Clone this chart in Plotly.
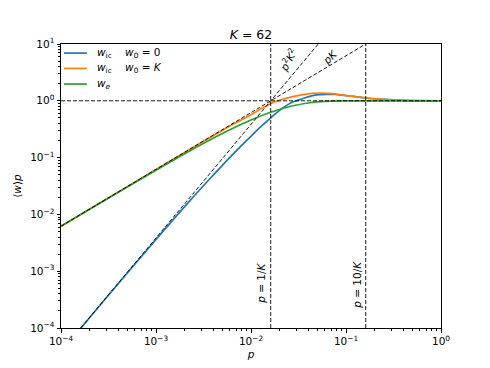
import plotly.graph_objects as go
import numpy as np

K = 62

# Curves
p_blue = [1e-4, 3e-4, 1e-3, 2.28e-3, 4e-3, 6e-3, 7.66e-3, 0.01, 0.01245, 0.01613, 0.02, 0.0268,
          0.0328, 0.0434, 0.052, 0.062, 0.0773, 0.09, 0.112, 0.168, 0.25, 0.4, 0.6, 1.0]
w_blue = [3.82e-5, 3.4e-4, 3.62e-3, 0.0175, 0.049, 0.101, 0.153, 0.237, 0.34, 0.50, 0.68, 0.93,
          1.05, 1.22, 1.28, 1.30, 1.29, 1.26, 1.21, 1.11, 1.06, 1.02, 1.005, 1.0]

p_orange = [1e-4, 1e-3, 3e-3, 5.3e-3, 8.65e-3, 0.012, 0.01613, 0.02, 0.0268, 0.035, 0.0434, 0.055,
            0.0773, 0.0865, 0.112, 0.158, 0.268, 0.4, 0.6, 1.0]
w_orange = [0.0062, 0.062, 0.184, 0.32, 0.50, 0.68, 0.90, 1.02, 1.17, 1.28, 1.35, 1.37,
            1.32, 1.28, 1.21, 1.13, 1.05, 1.02, 1.0, 1.0]

p_green = [1e-4, 1e-3, 3e-3, 5.3e-3, 1e-2, 0.01613, 0.0268, 0.0418, 0.05, 0.07, 0.1, 0.2, 1.0]
w_green = [0.0062, 0.060, 0.170, 0.28, 0.46, 0.63, 0.81, 0.925, 0.955, 0.987, 0.998, 1.0, 1.0]

x_ticks = [1e-4, 1e-3, 1e-2, 1e-1, 1e0]
x_ticktext = ["10<sup>−4</sup>", "10<sup>−3</sup>", "10<sup>−2</sup>", "10<sup>−1</sup>", "10<sup>0</sup>"]
y_ticks = [1e-4, 1e-3, 1e-2, 1e-1, 1e0, 1e1]
y_ticktext = ["10<sup>−4</sup>", "10<sup>−3</sup>", "10<sup>−2</sup>", "10<sup>−1</sup>", "10<sup>0</sup>", "10<sup>1</sup>"]

# Reference guide lines
p_lin = [1e-4, 10 / K]
y_lin = [1e-4 * K, 10]
p_sq = [1e-2 / K, np.sqrt(10) / K]
y_sq = [1e-4, 10]

FONT = "DejaVu Sans"
C_BLUE, C_ORANGE, C_GREEN = "#1f77b4", "#ff7f0e", "#2ca02c"
NB = "\u00a0"
labels = ["<i>w</i><sub>ic</sub>" + NB * 4 + "<i>w</i><sub>0</sub> = 0",
          "<i>w</i><sub>ic</sub>" + NB * 4 + "<i>w</i><sub>0</sub> = <i>K</i>",
          "<i>w<sub>e</sub></i>"]
colors = [C_BLUE, C_ORANGE, C_GREEN]

fig = go.Figure()
for xs, ys, c in [(p_blue, w_blue, C_BLUE), (p_orange, w_orange, C_ORANGE), (p_green, w_green, C_GREEN)]:
    fig.add_trace(go.Scatter(x=xs, y=ys, mode="lines", showlegend=False,
                             line=dict(color=c, width=1.7, shape="spline", smoothing=1.0)))

dash = dict(color="black", width=0.9, dash="4px,2px")
for xs, ys in [(p_lin, y_lin), (p_sq, y_sq), ([1e-4, 1.0], [1.0, 1.0]),
               ([1 / K, 1 / K], [1e-4, 10]), ([10 / K, 10 / K], [1e-4, 10])]:
    fig.add_trace(go.Scatter(x=xs, y=ys, mode="lines", line=dash, showlegend=False, hoverinfo="skip"))

ann = [
    ("<i>p</i><sup>2</sup><i>K</i><sup>2</sup>", -1.611, 0.72, -60),
    ("<i>pK</i>", -1.168, 0.77, -45),
    ("<i>p</i> = 1/<i>K</i>", -1.895, -3.205, -90),
    ("<i>p</i> = 10/<i>K</i>", -0.884, -3.24, -90),
]
for txt, lx, ly, ang in ann:
    fig.add_annotation(x=lx, y=ly, xref="x", yref="y", text=txt, showarrow=False, textangle=ang,
                       font=dict(family=FONT, size=10.5, color="black"))

# manual legend (matplotlib style)
leg_y = [0.968, 0.914, 0.859]
for lab, c, yy in zip(labels, colors, leg_y):
    fig.add_shape(type="line", xref="paper", yref="paper", x0=0.008, x1=0.068, y0=yy, y1=yy,
                  line=dict(color=c, width=1.7))
    fig.add_annotation(x=0.089, y=yy, xref="paper", yref="paper", text=lab, showarrow=False,
                       xanchor="left", yanchor="middle", font=dict(family=FONT, size=10.5, color="black"))

axis_common = dict(type="log", showgrid=False, zeroline=False, showline=True, linecolor="black", linewidth=1,
                   mirror=True, ticks="outside", ticklen=3.5, tickwidth=0.8, tickcolor="black",
                   automargin=False,
                   minor=dict(ticks="outside", ticklen=2, tickwidth=0.6, tickcolor="black", dtick="D1", showgrid=False),
                   tickfont=dict(family=FONT, size=10.5, color="black"))

fig.update_xaxes(range=[-4, 0], tickvals=x_ticks, ticktext=x_ticktext,
                 title=dict(text="<i>p</i>", font=dict(family=FONT, size=10.5, color="black"), standoff=4),
                 **axis_common)
fig.update_yaxes(range=[-4, 1], tickvals=y_ticks, ticktext=y_ticktext,
                 title=dict(text="⟨<i>w</i>⟩<i>p</i>", font=dict(family=FONT, size=10.5, color="black"), standoff=6),
                 **axis_common)

# page body has an 8px default margin, so the figure is offset by 8px
fig.update_layout(
    width=482, height=360,
    margin=dict(l=53, r=49, t=36, b=40),
    paper_bgcolor="white", plot_bgcolor="white",
    title=dict(text="<i>K</i> = 62", x=0.5, xref="paper", xanchor="center", y=1, yref="paper", yanchor="bottom",
               pad=dict(b=5), font=dict(family=FONT, size=12.5, color="black")),
    showlegend=False,
)

fig.write_html("out.html")
